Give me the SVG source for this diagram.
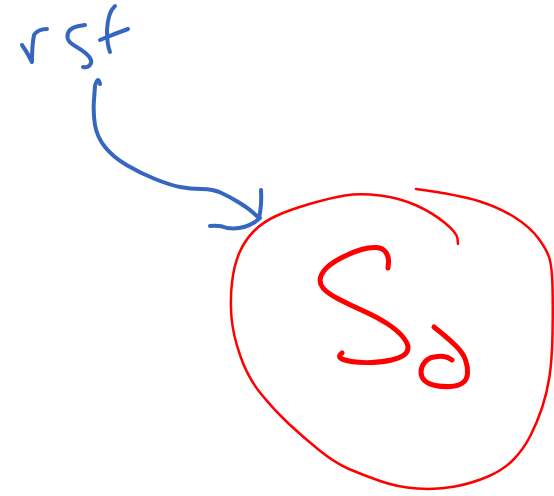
<svg xmlns="http://www.w3.org/2000/svg" width="554" height="496" viewBox="0 0 554 496">
<style>
.ink{fill:none;stroke-linecap:round;stroke-linejoin:round}
.blue{stroke:#3567c2;stroke-width:4}
.red{stroke:#ff0000}
.thin{stroke-width:2.5}
.thick{stroke-width:5}
</style>
<rect width="554" height="496" fill="#ffffff"/>
<g id="node-sf">
<path class="ink blue" d="M22,45 Q27,52 32,62"/>
<path class="ink blue" d="M32,61 Q32,45 34,35 Q38,29 47,29"/>
<path class="ink blue" d="M85,25 L79,26 Q73,27 70,30 Q67,33 67.5,37.5 Q68,42 75,46 Q82,50 86,53.5 Q90,57 91,60 Q92,63 89.5,65.5 Q87,68 83,67"/>
<path class="ink blue" d="M115,6 Q108,12 107,30 Q107,45 110,52"/>
<path class="ink blue" d="M100,40 Q114,34 128,29"/>
</g>
<g id="connectors">
<path class="ink blue" d="M100,84 Q98,75 95,86 L94,99.5 Q93,113 95,125 Q97,137 105,147 Q113,157 126.5,165 Q140,173 155,179 Q170,185 180,187 Q190,189 201.5,189 Q213,189 221.5,193 Q230,197 239,202.5 Q248,208 253.5,213 L259,218"/>
<path class="ink blue" d="M261,190 Q262,205 259,218"/>
<path class="ink blue" d="M210,226 Q220,225 227,228 Q243,230 255,222 L260,218"/>
</g>
<g id="node-s0">
<path class="ink red thin" d="M458,244 L457.5,238.5 Q457,233 445,223 Q433,213 416.5,205.5 Q400,198 380,195.5 Q360,193 345,195.5 Q330,198 309.5,204 Q289,210 276,216 Q263,222 254,231 Q245,240 239.5,252.5 Q234,265 232,282.5 Q230,300 231.5,317.5 Q233,335 240.5,356.5 Q248,378 261.5,394.5 Q275,411 289,424 Q303,437 319,450 Q335,463 349,469 Q363,475 380,481 Q397,487 417,488.5 Q437,490 455,486.5 Q473,483 488,476.5 Q503,470 513,460 Q523,450 530,436.5 Q537,423 542,408 Q547,393 549.5,376.5 Q552,360 552.5,333.5 Q553,307 552.5,287 Q552,267 549.5,258.5 Q547,250 538.5,238.5 Q530,227 515,217.5 Q500,208 480,201.5 Q460,195 416,189"/>
<path class="ink red thick" d="M388,268 L388.5,262.5 Q389,257 386,252.5 Q383,248 376.5,247.5 Q370,247 361.5,249.5 Q353,252 343,257 Q333,262 327.5,267 Q322,272 320.5,277.5 Q319,283 323,288 Q327,293 338.5,299 Q350,305 363.5,311 Q377,317 387,323.5 Q397,330 402.5,336.5 Q408,343 408,347.5 Q408,352 404,355 Q400,358 391.5,360 Q383,362 371.5,362.5 Q360,363 351.5,361.5 Q343,360 340.5,358 Q338,356 342,353"/>
<path class="ink red thick" d="M434,327 L442,333.5 Q450,340 456.5,346.5 Q463,353 465.5,360 Q468,367 467.5,373.5 Q467,380 462.5,383 Q458,386 450.5,386.5 Q443,387 435.5,385.5 Q428,384 424.5,380.5 Q421,377 421,372 Q421,367 424.5,362.5 Q428,358 434,357 Q440,356 444,356.5 Q448,357 452,360"/>
</g>
</svg>
